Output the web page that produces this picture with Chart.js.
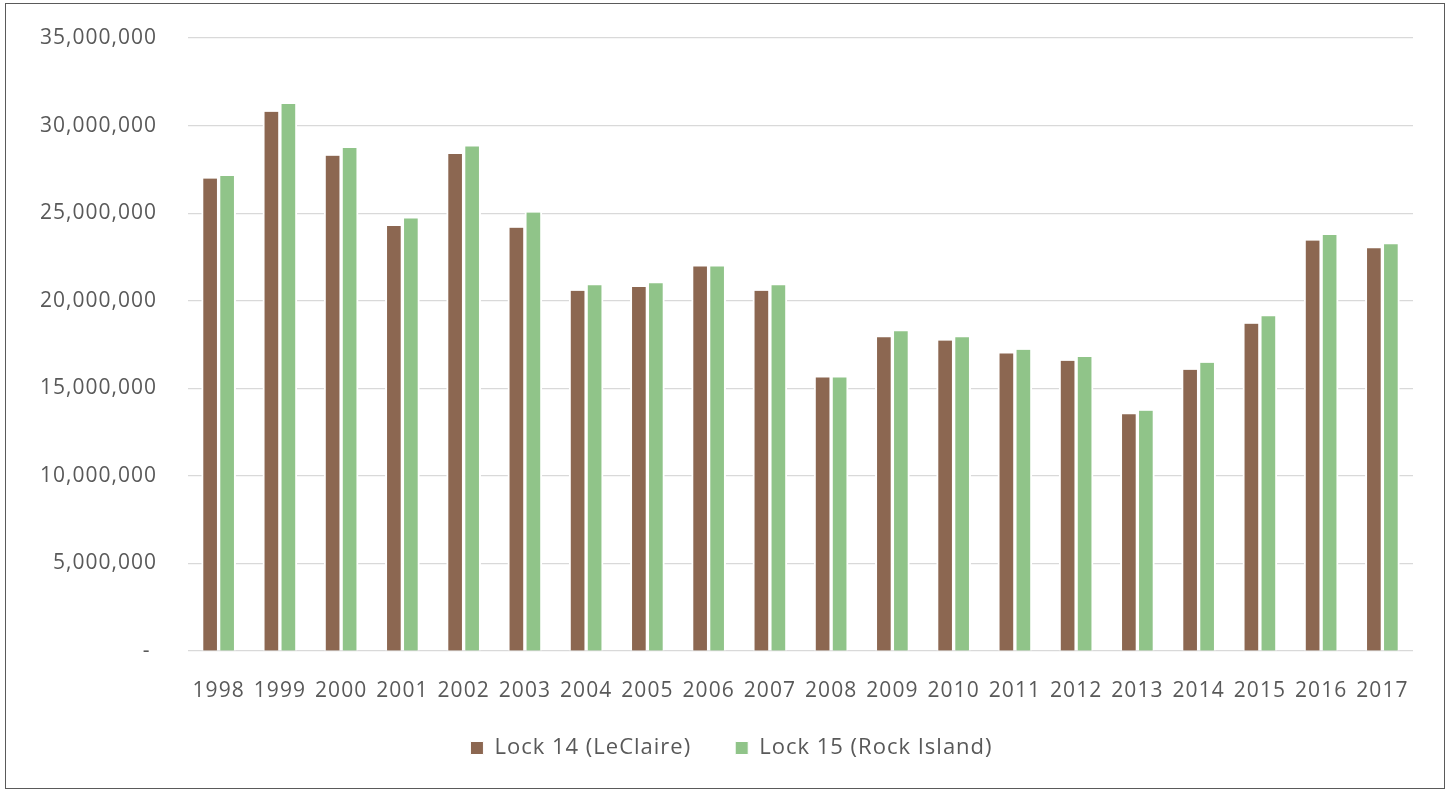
<!DOCTYPE html>
<html>
<head>
<meta charset="utf-8">
<script src="https://cdn.jsdelivr.net/npm/chart.js@4"></script>
<style>
  html, body { margin: 0; padding: 0; background: #fff; }
  #wrap { position: absolute; left: 0; top: 0; width: 1449px; height: 791px; }
  #frame { position: absolute; left: 5px; top: 3px; width: 1438px; height: 784px; border: 1.5px solid #5a5a5a; pointer-events: none; }
</style>
</head>
<body>
<div id="wrap"><canvas id="c" width="1449" height="791"></canvas></div>
<div id="frame"></div>
<script>
const years = ["1998","1999","2000","2001","2002","2003","2004","2005","2006","2007","2008","2009","2010","2011","2012","2013","2014","2015","2016","2017"];
const lock14 = [26980000,30790000,28280000,24260000,28370000,24170000,20570000,20780000,21960000,20570000,15620000,17920000,17730000,16990000,16570000,13520000,16060000,18690000,23440000,23000000];
const lock15 = [27120000,31230000,28720000,24700000,28810000,25030000,20890000,21000000,21960000,20890000,15620000,18260000,17920000,17200000,16780000,13720000,16460000,19120000,23750000,23220000];
const seriesNames = ["Lock 14 (LeClaire)", "Lock 15 (Rock Island)"];
const yTicks = [0,5000000,10000000,15000000,20000000,25000000,30000000,35000000];

const textColor = '#595959';
const fontFamily = "'Open Sans', 'Noto Sans', sans-serif";

const spacingPlugin = {
  id: 'spacing',
  beforeUpdate(chart) { try { chart.ctx.letterSpacing = '1px'; } catch (e) {} },
  afterLayout(chart) {
    const lg = chart.legend;
    if (lg) { lg.top -= 13; lg.bottom -= 13; lg.left += 20; lg.right += 20; }
  },
  beforeDraw(chart) { try { chart.ctx.letterSpacing = '1px'; } catch (e) {} }
};

new Chart(document.getElementById('c'), {
  type: 'bar',
  data: {
    labels: years,
    datasets: [
      { label: seriesNames[0], data: lock14, backgroundColor: '#8c6751', borderColor: '#ffffff',
        borderWidth: {left: 2, right: 2, top: 0, bottom: 0}, borderSkipped: false, barThickness: 17 },
      { label: seriesNames[1], data: lock15, backgroundColor: '#90c489', borderColor: '#ffffff',
        borderWidth: {left: 2, right: 2, top: 0, bottom: 0}, borderSkipped: false, barThickness: 17 }
    ]
  },
  plugins: [spacingPlugin],
  options: {
    responsive: false,
    animation: false,
    layout: { padding: { left: 10, right: 36, top: 38, bottom: 9 } },
    plugins: {
      tooltip: { enabled: false },
      legend: {
        position: 'bottom',
        labels: {
          color: textColor,
          font: { family: fontFamily, size: 22 },
          boxWidth: 13, boxHeight: 13, padding: 44
        }
      }
    },
    scales: {
      x: {
        afterFit(scale) { scale.height = 55; },
        grid: { display: false, drawTicks: false },
        border: { display: false },
        ticks: { color: textColor, font: { family: fontFamily, size: 21 }, padding: 27, maxRotation: 0, autoSkip: false }
      },
      y: {
        min: 0, max: 35000000,
        afterFit(scale) { scale.width = 178; scale.paddingTop = 0; scale.paddingBottom = 0; },
        afterBuildTicks(scale) { scale.ticks = yTicks.map(v => ({ value: v })); },
        grid: { color: '#d9d9d9', lineWidth: 1.2, drawTicks: false },
        border: { display: false },
        ticks: {
          color: textColor, font: { family: fontFamily, size: 21 }, padding: 31,
          callback: v => v === 0 ? '- ' : v.toLocaleString('en-US')
        }
      }
    }
  }
});
</script>
</body>
</html>
